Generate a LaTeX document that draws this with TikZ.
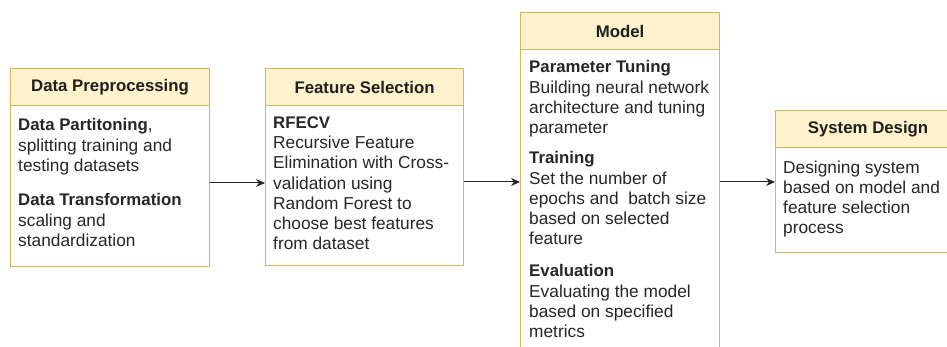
\documentclass[tikz,border=0pt]{standalone}
\usepackage{fontspec}
\setmainfont{Liberation Sans}
\usetikzlibrary{arrows.meta}
\definecolor{hdrfill}{HTML}{FFF2CC}
\definecolor{hdrline}{HTML}{D6B656}
% bold run-in titles inside the box bodies
\newcommand\boxtitle[1]{{\fontsize{16.8}{20.2}\selectfont\bfseries #1}}
\tikzset{
  boxhead/.style={draw=hdrline, fill=hdrfill, line width=1.1pt, anchor=north west,
    inner sep=0pt, font=\fontsize{16.8}{19}\selectfont\bfseries, text=black!88},
  boxbody/.style={draw=hdrline, fill=white, line width=1.1pt, anchor=north west, inner sep=0pt},
  bodytext/.style={anchor=north west, inner sep=0pt, align=left,
    font=\fontsize{17.3}{20.2}\selectfont, text=black!85},
  flow/.style={draw=black!85, line width=1pt, -{Stealth[length=9pt,width=8pt]}}
}
\begin{document}
\begin{tikzpicture}[x=1pt,y=1pt]
\useasboundingbox (0,0) rectangle (947,-347);
\clip (0,0) rectangle (947,-347);

% Data Preprocessing
\node[boxbody, minimum width=199pt, minimum height=161pt] (b1) at (10,-105) {};
\node[boxhead, minimum width=199pt, minimum height=37pt] (h1) at (10,-68) {Data Preprocessing};
\node[bodytext] (t1a) at (18,-118.5) {\boxtitle{Data Partitoning},\\splitting training and\\testing datasets};
\node[bodytext] (t1b) at (18,-193.5) {\boxtitle{Data Transformation}\\scaling and\\standardization};

% Feature Selection
\node[boxbody, minimum width=198pt, minimum height=160pt] (b2) at (265,-105) {};
\node[boxhead, minimum width=198pt, minimum height=37pt] (h2) at (265,-68) {Feature Selection};
\node[bodytext] (t2) at (273,-116.5) {\boxtitle{RFECV}\\Recursive Feature\\Elimination with Cross-\\validation using\\Random Forest to\\choose best features\\from dataset};

% Model
\node[boxbody, minimum width=199pt, minimum height=330pt] (b3) at (520,-49) {};
\node[boxhead, minimum width=199pt, minimum height=37pt] (h3) at (520,-12) {Model};
\node[bodytext] (t3a) at (529,-60.5) {\boxtitle{Parameter Tuning}\\Building neural network\\architecture and tuning\\parameter};
\node[bodytext] (t3b) at (529,-151.5) {\boxtitle{Training}\\Set the number of\\epochs and\ \ batch size\\based on selected\\feature};
\node[bodytext] (t3c) at (529,-264.5) {\boxtitle{Evaluation}\\Evaluating the model\\based on specified\\metrics};

% System Design
\node[boxbody, minimum width=185pt, minimum height=105pt] (b4) at (775,-147) {};
\node[boxhead, minimum width=185pt, minimum height=37pt] (h4) at (775,-110) {System Design};
\node[bodytext] (t4) at (783,-160.5) {Designing system\\based on model and\\feature selection\\process};

% connectors
\coordinate (lvl) at (0,-182);
\draw[flow] (b1.east |- 0,-183) -- (b2.west |- 0,-183);
\draw[flow] (b2.east |- lvl) -- (b3.west |- lvl);
\draw[flow] (b3.east |- lvl) -- (b4.west |- lvl);
\end{tikzpicture}
\end{document}
